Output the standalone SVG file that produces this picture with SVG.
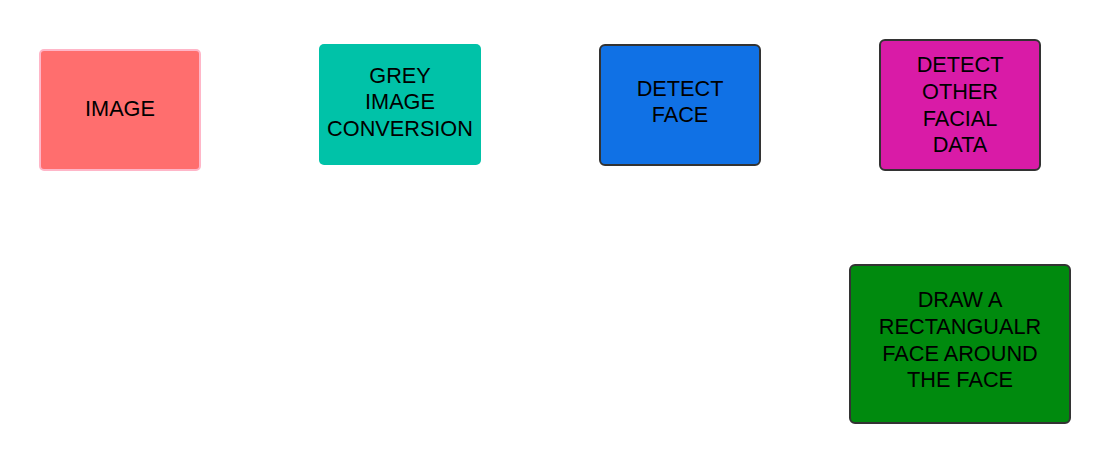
<svg xmlns="http://www.w3.org/2000/svg" width="1110" height="464" viewBox="0 0 1110 464">
<style>
text{font-family:"Liberation Sans",Arial,sans-serif;font-size:21.7px;fill:#000;text-anchor:middle}
.dk{stroke:#333;stroke-width:2}
</style>
<rect width="1110" height="464" fill="#fff"/>
<g id="connectors"></g>
<g id="n-image">
<rect x="40" y="50" width="160" height="120" rx="4" fill="#ff6e6e" stroke="#ffb6c8" stroke-width="2"/>
<text x="120" y="116">IMAGE</text>
</g>
<g id="n-grey">
<rect x="319" y="44" width="162" height="121" rx="5" fill="#00c2a8"/>
<text x="400" y="82.7">GREY</text>
<text x="400" y="109.2">IMAGE</text>
<text x="400" y="135.7">CONVERSION</text>
</g>
<g id="n-detect">
<rect x="600" y="45" width="160" height="120" rx="5" fill="#1071e5" class="dk"/>
<text x="680" y="96">DETECT</text>
<text x="680" y="122.3">FACE</text>
</g>
<g id="n-other">
<rect x="880" y="40" width="160" height="130" rx="5" fill="#d91ba7" class="dk"/>
<text x="960" y="72.3">DETECT</text>
<text x="960" y="99">OTHER</text>
<text x="960" y="125.7">FACIAL</text>
<text x="960" y="152.3">DATA</text>
</g>
<g id="n-draw">
<rect x="850" y="265" width="220" height="158" rx="5" fill="#008a0e" class="dk"/>
<text x="960" y="307.3">DRAW A</text>
<text x="960" y="334">RECTANGUALR</text>
<text x="960" y="360.7">FACE AROUND</text>
<text x="960" y="387.3">THE FACE</text>
</g>
</svg>
